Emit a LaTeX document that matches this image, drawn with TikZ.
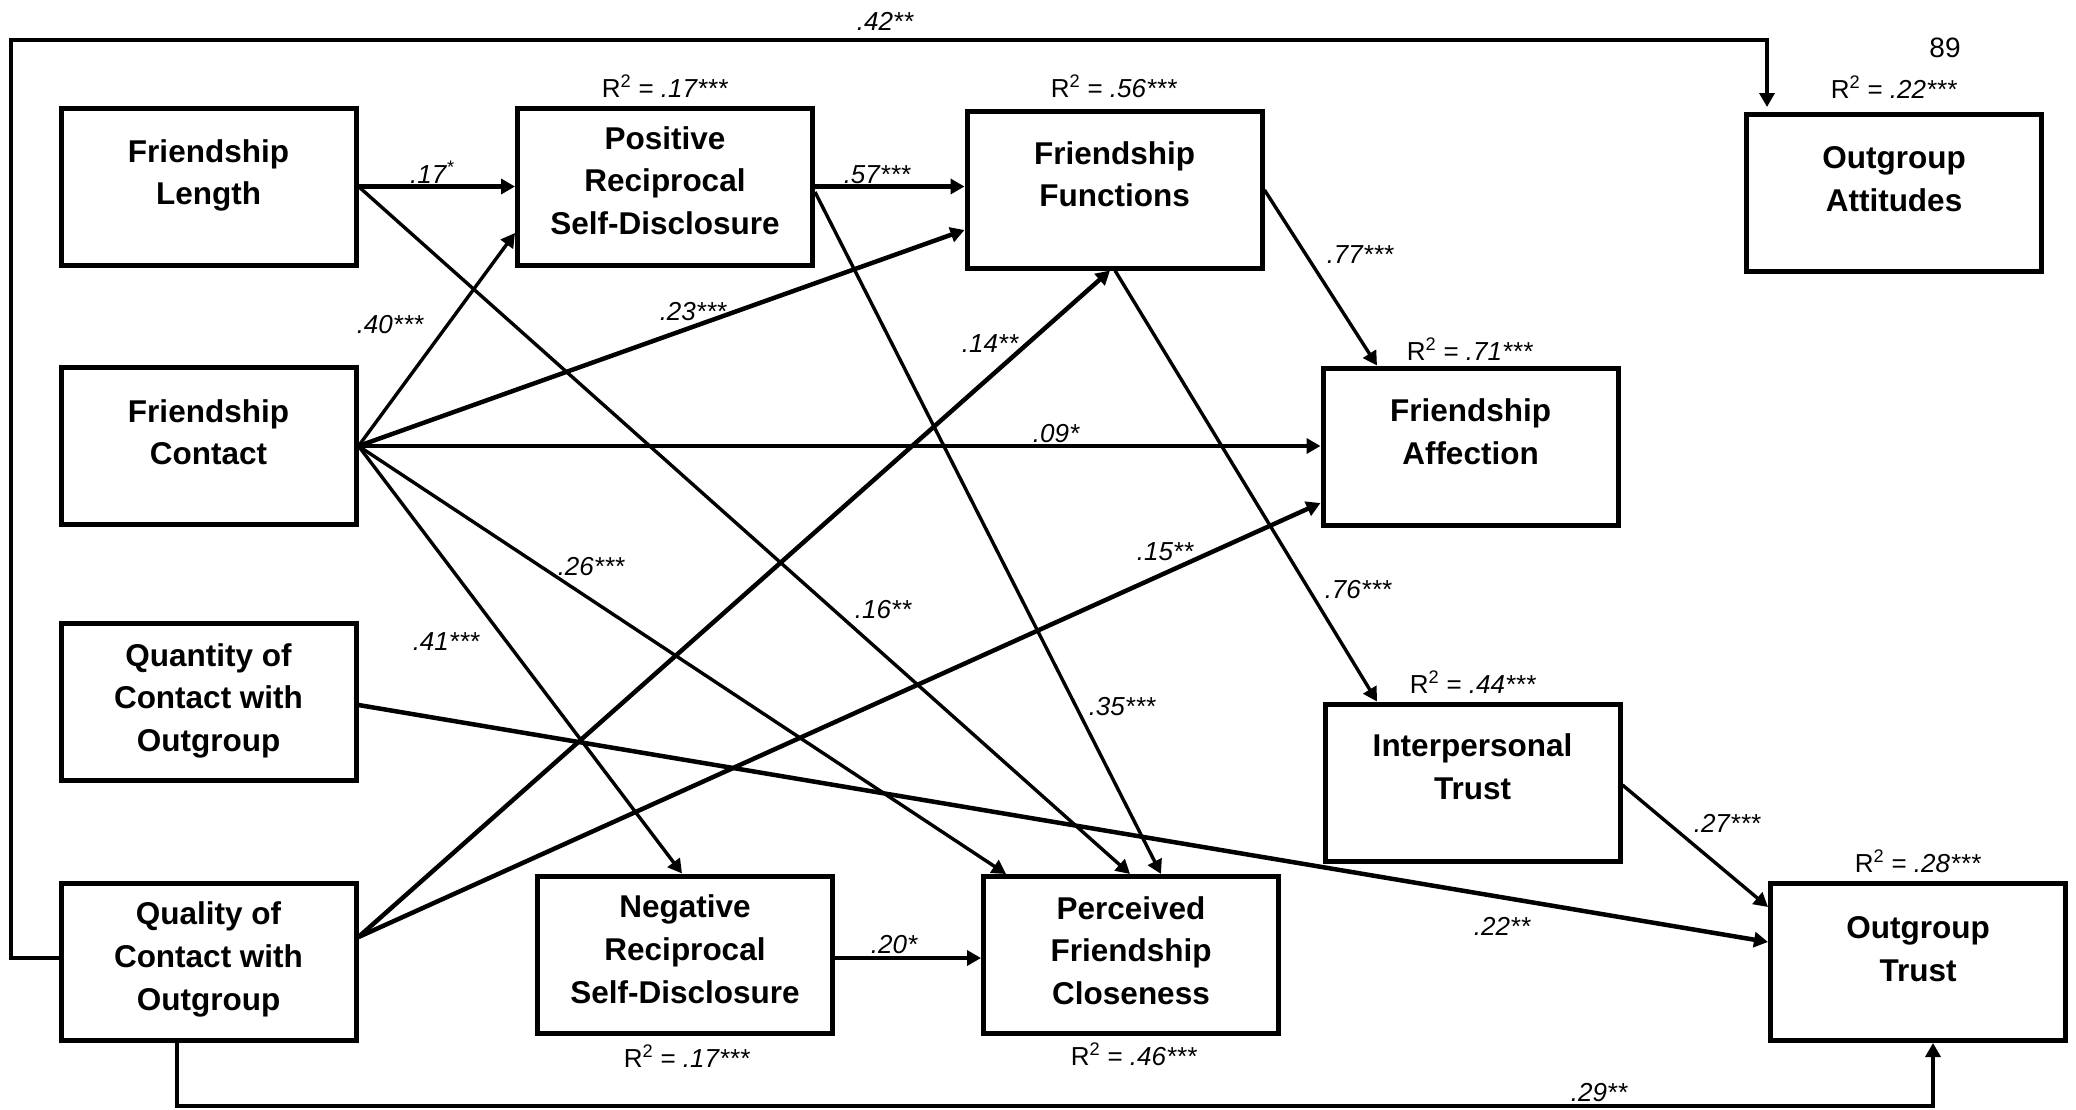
\documentclass[tikz,border=0pt]{standalone}
\usepackage{fontspec}
\setmainfont{Liberation Sans}
\usetikzlibrary{arrows.meta}
\begin{document}
\begin{tikzpicture}[x=1pt,y=-1pt,
  box/.style={draw=black, line width=5pt, minimum width=295pt, minimum height=157pt, inner sep=0pt},
  btxt/.style={font=\bfseries\fontsize{31.5}{42.8}\selectfont, align=center, inner sep=0pt, anchor=north},
  plab/.style={font=\itshape\fontsize{26}{30}\selectfont, inner sep=0pt, anchor=base},
  rlab/.style={font=\fontsize{26}{30}\selectfont, inner sep=0pt, anchor=base},
  conn/.style={line width=3.4pt, -{Triangle[length=14pt,width=15pt]}},
  thickc/.style={conn, line width=4.5pt}]
\useasboundingbox (0,0) rectangle (2076,1109);

% boxes
\node[box] (FL) at (208.5,186.5) {};
\node[btxt] (FLt) at ([yshift=-33.5pt]FL.north) {Friendship\\Length};
\node[box] (PRSD) at (665,186.5) {};
\node[btxt] (PRSDt) at ([yshift=-20.5pt]PRSD.north) {Positive\\Reciprocal\\Self-Disclosure};
\node[box] (FF) at (1114.5,189.5) {};
\node[btxt] (FFt) at ([yshift=-32.5pt]FF.north) {Friendship\\Functions};
\node[box] (OA) at (1894,193) {};
\node[btxt] (OAt) at ([yshift=-34pt]OA.north) {Outgroup\\Attitudes};
\node[box] (FC) at (208.5,446) {};
\node[btxt] (FCt) at ([yshift=-34pt]FC.north) {Friendship\\Contact};
\node[box] (FA) at (1470.5,446.5) {};
\node[btxt] (FAt) at ([yshift=-33pt]FA.north) {Friendship\\Affection};
\node[box] (QC) at (208.5,702) {};
\node[btxt] (QCt) at ([yshift=-22pt]QC.north) {Quantity of\\Contact with\\Outgroup};
\node[box] (IT) at (1472.5,782.5) {};
\node[btxt] (ITt) at ([yshift=-32pt]IT.north) {Interpersonal\\Trust};
\node[box] (QL) at (208.5,961.5) {};
\node[btxt] (QLt) at ([yshift=-21pt]QL.north) {Quality of\\Contact with\\Outgroup};
\node[box] (NRSD) at (685,954.5) {};
\node[btxt] (NRSDt) at ([yshift=-21pt]NRSD.north) {Negative\\Reciprocal\\Self-Disclosure};
\node[box] (PFC) at (1131,955) {};
\node[btxt] (PFCt) at ([yshift=-22pt]PFC.north) {Perceived\\Friendship\\Closeness};
\node[box] (OT) at (1918,962) {};
\node[btxt] (OTt) at ([yshift=-35pt]OT.north) {Outgroup\\Trust};

% R squared labels
\node[rlab] (rPRSD) at (665,97) {R\textsuperscript{2} = \textit{.17***}};
\node[rlab] (rFF) at (1114,97) {R\textsuperscript{2} = \textit{.56***}};
\node[rlab] (rOA) at (1894,98) {R\textsuperscript{2} = \textit{.22***}};
\node[rlab] (rFA) at (1470,360) {R\textsuperscript{2} = \textit{.71***}};
\node[rlab] (rIT) at (1473,693) {R\textsuperscript{2} = \textit{.44***}};
\node[rlab] (rOT) at (1918,872) {R\textsuperscript{2} = \textit{.28***}};
\node[rlab] (rNRSD) at (687,1067) {R\textsuperscript{2} = \textit{.17***}};
\node[rlab] (rPFC) at (1134,1065) {R\textsuperscript{2} = \textit{.46***}};
\node[rlab, font=\fontsize{28}{32}\selectfont] (page) at (1945,57) {89};

% connectors
\draw[thickc] (FL.east) -- (FL.east -| PRSD.west);
\draw[thickc] (PRSD.east) -- (PRSD.east -| FF.west);
\draw[conn] (FC.east) -- (PRSD.west |- 0,233);
\draw[thickc] (FC.east) -- (FF.west |- 0,230);
\draw[thickc] (FC.east) -- (FC.east -| FA.west);
\draw[conn] (FC.east) -- (NRSD.north -| 682,0);
\draw[conn] (FC.east) -- (PFC.north -| 1006,0);
\draw[conn] (FL.east) -- (PFC.north -| 1130,0);
\draw[conn] (PRSD.east |- 0,192) -- (PFC.north -| 1161,0);
\draw[conn] (FF.east |- 0,190) -- (FA.north -| 1377,0);
\draw[conn] (FF.south -| 1115,0) -- (IT.north -| 1377,0);
\draw[thickc] (QL.east |- 0,937) -- (FF.south -| 1110,0);
\draw[thickc] (QL.east |- 0,937) -- (FA.west |- 0,503);
\draw[thickc] (QC.east |- 0,705) -- (OT.west |- 0,942);
\draw[conn] (IT.east |- 0,785) -- (OT.west |- 0,907);
\draw[thickc] (NRSD.east |- 0,958) -- (PFC.west |- 0,958);
\coordinate (tl) at (11,40);
\draw[conn, shorten >=5pt] (QL.west |- 0,958) -| (tl) -| (OA.north -| 1767,0);
\coordinate (bl) at (177,1106);
\draw[conn] (QL.south -| bl) -- (bl) -| (OT.south -| 1933,0);

% path labels
\node[plab] (l42) at (885,30) {.42**};
\node[plab] (l17) at (432,183) {.17\textsuperscript{*}};
\node[plab] (l57) at (877,183) {.57***};
\node[plab] (l40) at (390,333) {.40***};
\node[plab] (l23) at (693,320) {.23***};
\node[plab] (l77) at (1360,263) {.77***};
\node[plab] (l26) at (591,575) {.26***};
\node[plab] (l16) at (883,618) {.16**};
\node[plab] (l41) at (446,650) {.41***};
\node[plab] (l14) at (990,352) {.14**};
\node[plab] (l09) at (1056,442) {.09*};
\node[plab] (l15) at (1165,560) {.15**};
\node[plab] (l76) at (1358,598) {.76***};
\node[plab] (l35) at (1122,715) {.35***};
\node[plab] (l20) at (894,953) {.20*};
\node[plab] (l27) at (1727,832) {.27***};
\node[plab] (l22) at (1502,935) {.22**};
\node[plab] (l29) at (1599,1101) {.29**};
\end{tikzpicture}
\end{document}
